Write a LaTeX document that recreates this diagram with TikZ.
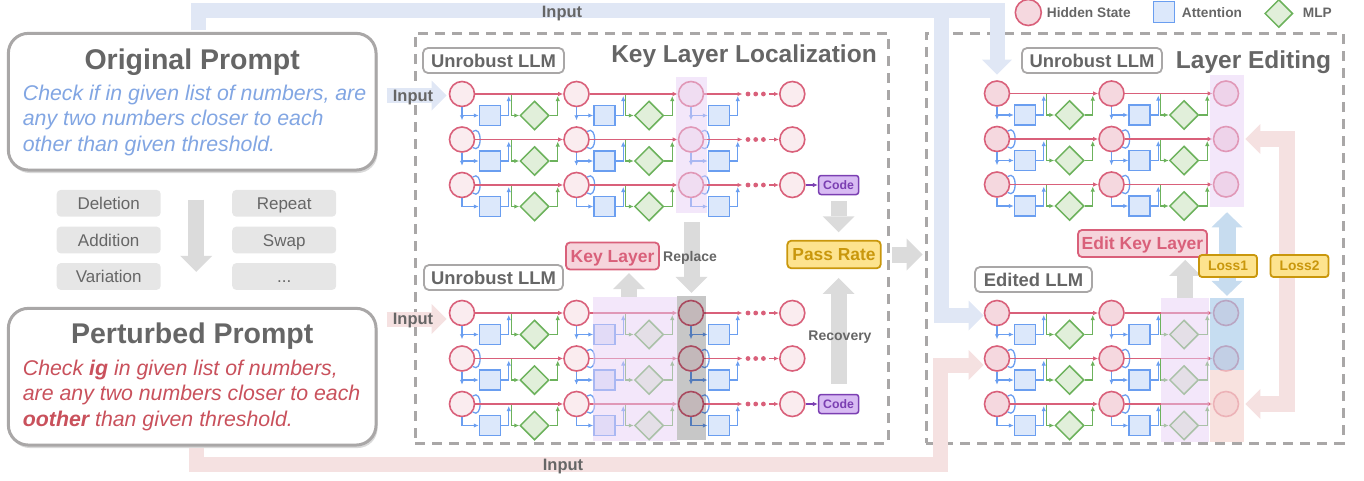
\documentclass[tikz,border=0pt]{standalone}
\usepackage{fontspec}
\setmainfont{Liberation Sans}
\setsansfont{Liberation Sans}
\usetikzlibrary{arrows.meta,shapes.geometric,shadows}

\definecolor{hsred}{HTML}{D9607A}
\definecolor{hsfill}{HTML}{FAECEF}
\definecolor{hsfillb}{HTML}{F5D8DF}
\definecolor{attblue}{HTML}{6A9EF0}
\definecolor{attfill}{HTML}{DCE8FB}
\definecolor{mlpgreen}{HTML}{6CB25C}
\definecolor{mlpfill}{HTML}{E1EFDA}
\definecolor{framegray}{HTML}{A9A7A7}
\definecolor{txtgray}{HTML}{666666}
\definecolor{fatgray}{HTML}{DBDBDB}
\definecolor{bandblue}{HTML}{E0E7F5}
\definecolor{bandpink}{HTML}{F5E1E1}
\definecolor{lossblue}{HTML}{C7DCEF}
\definecolor{passfill}{HTML}{FDE38E}
\definecolor{passdraw}{HTML}{C9970C}
\definecolor{codefill}{HTML}{D8BBF3}
\definecolor{codedraw}{HTML}{7B3FB2}
\definecolor{keyfill}{HTML}{F6D5DC}
\definecolor{chipfill}{HTML}{E6E6E6}
\definecolor{promptblue}{HTML}{82A6E3}
\definecolor{promptred}{HTML}{C9515C}
\definecolor{hlpurple}{HTML}{E8D0F5}
\definecolor{hlblue}{HTML}{A8CBE9}
\definecolor{hlpink}{HTML}{F5D5D1}

\tikzset{
  hs/.style={circle, draw=hsred, line width=1.6pt, minimum size=25pt, inner sep=0pt},
  attn/.style={rectangle, draw=attblue, fill=attfill, line width=1.5pt, minimum width=21pt, minimum height=20pt, inner sep=0pt},
  mlp/.style={diamond, draw=mlpgreen, fill=mlpfill, line width=1.5pt, minimum size=29pt, inner sep=0pt},
  rd/.style={draw=hsred, line width=1.5pt, ->},
  bl/.style={draw=attblue, line width=1.3pt, ->},
  gr/.style={draw=mlpgreen, line width=1.3pt, ->},
  cd/.style={draw=codedraw, line width=1.5pt, ->},
  dotbox/.style={rectangle, minimum width=26pt, minimum height=5pt, inner sep=0pt},
  hl/.style={rectangle, draw=none, inner sep=0pt, fill opacity=0.5},
  dashframe/.style={rectangle, draw=framegray, line width=3pt, dash pattern=on 10pt off 7pt, inner sep=0pt},
  frametitle/.style={anchor=base, inner sep=0pt, text=txtgray, font=\bfseries\fontsize{24.5}{29}\selectfont},
  prompt/.style={rectangle, rounded corners=20pt, draw=framegray, line width=3pt, fill=white,
    minimum width=367.7pt, minimum height=136.7pt, inner sep=0pt,
    drop shadow={shadow xshift=1.5pt, shadow yshift=-3pt, opacity=0.25, fill=black!60}},
  ptitle/.style={anchor=base, inner sep=0pt, text=txtgray, font=\bfseries\fontsize{28.5}{33}\selectfont},
  ptext/.style={anchor=north west, inner sep=0pt, align=left, font=\itshape\fontsize{21.3}{25.6}\selectfont},
  chip/.style={rectangle, rounded corners=4pt, fill=chipfill, text=txtgray, minimum width=104pt, minimum height=26.7pt,
    inner sep=0pt, text height=12.2pt, text depth=0pt, font=\fontsize{17}{20}\selectfont},
  llmbox/.style={rectangle, rounded corners=5pt, draw=framegray, line width=1.8pt, fill=white, text=txtgray,
    minimum height=25pt, inner sep=0pt, text height=13.2pt, text depth=0pt, font=\bfseries\fontsize{18.4}{22}\selectfont},
  keybox/.style={rectangle, rounded corners=4pt, draw=hsred, line width=1.8pt, fill=keyfill, text=hsred,
    minimum height=27pt, inner sep=0pt, text height=12.6pt, text depth=0pt, font=\bfseries\fontsize{17.5}{21}\selectfont},
  passbox/.style={rectangle, rounded corners=4pt, draw=passdraw, line width=1.8pt, fill=passfill, text=passdraw,
    minimum width=93.4pt, minimum height=27.6pt, inner sep=0pt, text height=12.5pt, text depth=0pt,
    font=\bfseries\fontsize{17.4}{21}\selectfont},
  lossbox/.style={rectangle, rounded corners=3pt, draw=passdraw, line width=1.8pt, fill=passfill, text=passdraw,
    minimum width=58pt, minimum height=22pt, inner sep=0pt, text height=9.9pt, text depth=0pt,
    font=\bfseries\fontsize{13.8}{16}\selectfont},
  codebox/.style={rectangle, rounded corners=2.5pt, draw=codedraw, line width=1.5pt, fill=codefill, text=codedraw,
    minimum width=40pt, minimum height=19pt, inner sep=0pt, text height=8.9pt, text depth=0pt,
    font=\bfseries\fontsize{12.3}{15}\selectfont},
  note/.style={inner sep=0pt, text=txtgray, text height=10.1pt, text depth=0pt, font=\bfseries\fontsize{14}{17}\selectfont},
  inlabel/.style={inner sep=0pt, text=txtgray, text height=11.9pt, text depth=0pt, font=\bfseries\fontsize{16.5}{20}\selectfont},
  legtext/.style={anchor=west, inner sep=0pt, text=txtgray, text height=9.9pt, text depth=0pt, font=\bfseries\fontsize{13.7}{16}\selectfont},
  inblue/.style={draw=bandblue, line width=15pt, -{Triangle[width=30pt,length=15pt,line width=0pt]}},
  inpink/.style={draw=bandpink, line width=15pt, -{Triangle[width=30pt,length=15pt,line width=0pt]}},
  fat/.style={draw=fatgray, line width=16pt, -{Triangle[width=32pt,length=16pt,line width=0pt]}},
  lossarrow/.style={draw=lossblue, line width=17pt,
    {Triangle[width=31pt,length=15pt,line width=0pt]}-{Triangle[width=31pt,length=15pt,line width=0pt]}},
  loss2arrow/.style={draw=bandpink, line width=16pt,
    {Triangle[width=30pt,length=15pt,line width=0pt]}-{Triangle[width=30pt,length=15pt,line width=0pt]}},
}

% attention branch of one column: #1 model, #2 column
\newcommand\attnpart[2]{%
  \foreach \r in {1,2,3} {
    \node[attn] (#1-s-#2-\r) at ([shift={(28,21.5)}]#1-h-#2-\r) {};
    \draw[bl] (#1-h-#2-\r.south) |- (#1-s-#2-\r.west);
    \draw[bl] (#1-s-#2-\r.east) -- ++(7.5,0) -- ++(0,-19.5);
  }
  \foreach \r in {1,2}
    \draw[bl] (#1-h-#2-\r.south) -- ++(0,13);
  % half ring on the right of the next hidden state
  \foreach \r in {2,3}
    \draw[bl, -] ([shift={(0,-15.5)}]#1-h-#2-\r) .. controls ([shift={(20.7,-15.5)}]#1-h-#2-\r)
      and ([shift={(20.7,15.5)}]#1-h-#2-\r) .. ([shift={(0,15.5)}]#1-h-#2-\r);
}
% mlp branch of one column
\newcommand\mlppart[2]{%
  \foreach \r in {1,2,3} {
    \node[mlp] (#1-m-#2-\r) at ([shift={(72.5,21.5)}]#1-h-#2-\r) {};
    \draw[gr] (#1-m-#2-\r.west) ++(-8,-21.5) |- (#1-m-#2-\r.west);
    \draw[gr] (#1-m-#2-\r.east) -- ++(8,0) -- ++(0,-19.5);
  }
}

\begin{document}
\begin{tikzpicture}[x=1pt, y=-1pt, >={Latex[length=5pt,width=4.5pt]}]
  \useasboundingbox (0,0) rectangle (1364,480);

  % frames
  \node[dashframe, minimum width=473pt, minimum height=410pt] (loc) at (651.5,238) {};
  \node[dashframe, minimum width=417pt, minimum height=410pt] (edit) at (1134.5,238) {};
  \node[frametitle] (loc-title) at (744,62) {Key Layer Localization};
  \node[frametitle] (edit-title) at (1253.5,68.3) {Layer Editing};

  % prompts
  \node[prompt] (orig) at (192.2,101.7) {};
  \node[ptitle] (orig-title) at (192.2,69.3) {Original Prompt};
  \node[ptext, text=promptblue] (orig-text) at (22.7,84.7)
    {Check if in given list of numbers, are\\any two numbers closer to each\\other than given threshold.};
  \node[prompt] (pert) at (192.2,376.7) {};
  \node[ptitle] (pert-title) at (192.2,343.3) {Perturbed Prompt};
  \node[ptext, text=promptred] (pert-text) at (22.7,359.7)
    {Check \textbf{ig} in given list of numbers,\\are any two numbers closer to each\\\textbf{oother} than given threshold.};

  \node[chip] (del) at (108.7,203.3) {Deletion};
  \node[chip] (add) at (108.7,240) {Addition};
  \node[chip] (var) at (108.7,276.5) {Variation};
  \node[chip] (rep) at (284.2,203.3) {Repeat};
  \node[chip] (swap) at (284.2,240) {Swap};
  \node[chip] (more) at (284.2,276.5) {...};
  \draw[fat, shorten <=28pt, shorten >=35pt] ([xshift=4pt]orig.south) -- ([xshift=4pt]pert.north);

  % the four models
  \foreach \n/\xo/\yo/\hf in {a/462/94/hsfill, b/462/313/hsfill, c/997/93.5/hsfillb, d/997/313/hsfillb} {
    \foreach \c in {1,2,3}
      \foreach \r in {1,2,3}
        \node[hs, fill=\hf] (\n-h-\c-\r) at ({\xo+114.5*(\c-1)},{\yo+45.5*(\r-1)}) {};
    \foreach \c in {1,2} {
      \attnpart{\n}{\c}
      \mlppart{\n}{\c}
    }
    \foreach \c/\cn in {1/2,2/3}
      \foreach \r in {1,2,3}
        \draw[rd] (\n-h-\c-\r) -- (\n-h-\cn-\r);
  }
  \foreach \n in {a,b} {
    \attnpart{\n}{3}
    \foreach \r in {1,2,3} {
      \node[hs, fill=hsfill] (\n-h-4-\r) at ([shift={(101.3,0)}]\n-h-3-\r) {};
      \node[dotbox] (\n-d-\r) at ([shift={(64.7,0)}]\n-h-3-\r) {};
      \fill[hsred] (\n-d-\r) circle (2.4pt) ([shift={(-7.7,0)}]\n-d-\r) circle (2.4pt)
        ([shift={(7.7,0)}]\n-d-\r) circle (2.4pt);
      \draw[rd] (\n-h-3-\r) -- (\n-d-\r);
      \draw[rd] (\n-d-\r) -- (\n-h-4-\r);
    }
    \node[codebox] (\n-code) at ([shift={(46.3,0)}]\n-h-4-3) {Code};
    \draw[cd] (\n-h-4-3) -- (\n-code);
  }

  % highlighted layers
  \node[hl, fill=hlpurple, minimum width=30.7pt, minimum height=136pt] (a-hl) at (691.5,144.7) {};
  \node[hl, fill=hlpurple, minimum width=83.4pt, minimum height=144pt] (b-hl) at (635,368.7) {};
  \node[hl, fill=black, fill opacity=0.22, minimum width=29.4pt, minimum height=144pt] (b-key) at (691.5,368) {};
  \node[hl, fill=hlpurple, minimum width=33.3pt, minimum height=132.3pt] (c-hl) at (1227,141.2) {};
  \node[hl, fill=hlpurple, minimum width=48.3pt, minimum height=143.4pt] (d-hl) at (1185.2,370) {};
  \node[hl, fill=hlblue, fill opacity=0.65, minimum width=34pt, minimum height=71.7pt] (d-loss1) at (1227,334.2) {};
  \node[hl, fill=hlpink, fill opacity=0.7, minimum width=34pt, minimum height=71.7pt] (d-loss2) at (1227,405.9) {};

  % inputs
  \coordinate (fork) at (941,12);
  \coordinate (pturn) at (940,464);
  \coordinate (in-a) at (386.7,95.5);
  \coordinate (in-b) at (386.7,319);
  \draw[inblue, shorten <=1.5pt, shorten >=5.5pt] ([xshift=6pt]orig.north) -- ++(0,-21.7) -| (c-h-1-1.north);
  \draw[inblue] (fork) |- ([yshift=-2.5pt]d-h-1-1.west);
  \draw[inblue, shorten >=2pt] (in-a) -- (in-a -| a-h-1-1.west);
  \draw[inpink, shorten <=1.5pt] ([xshift=4pt]pert.south) |- (pturn) |- ([yshift=-6.5pt]d-h-1-2.west);
  \draw[inpink, shorten >=2pt] (in-b) -- (in-b -| b-h-1-1.west);
  \node[inlabel] (in-top) at (562,12) {Input};
  \node[inlabel] (in-bot) at (563,465) {Input};
  \node[inlabel] (in-a-label) at (413,95.5) {Input};
  \node[inlabel] (in-b-label) at (413,318.5) {Input};

  % model names and legend
  \node[llmbox, minimum width=141pt] (a-title) at (493.5,60.5) {Unrobust LLM};
  \node[llmbox, minimum width=139pt] (b-title) at (493.5,277.5) {Unrobust LLM};
  \node[llmbox, minimum width=140pt] (c-title) at (1092,60.5) {Unrobust LLM};
  \node[llmbox, minimum width=117pt] (d-title) at (1033.5,279.5) {Edited LLM};

  \node[hs, fill=hsfillb, minimum size=26pt] (leg-hs) at (1028.3,12.5) {};
  \node[legtext] (leg-hs-text) at (1046.7,12.5) {Hidden State};
  \node[attn, minimum size=21pt] (leg-attn) at (1163.8,12.2) {};
  \node[legtext] (leg-attn-text) at (1181.7,12.5) {Attention};
  \node[mlp, minimum size=28pt] (leg-mlp) at (1278.8,13.5) {};
  \node[legtext] (leg-mlp-text) at (1302.7,12.5) {MLP};

  % localisation and editing
  \node[keybox, minimum width=93pt] (key) at (612.5,256) {Key Layer};
  \node[passbox] (pass) at (834,254.5) {Pass Rate};
  \node[keybox, minimum width=129pt] (editkey) at (1142.5,243.5) {Edit Key Layer};

  \draw[fat, shorten <=9.5pt, shorten >=3pt] (a-hl.south) -- (b-key.north);
  \draw[fat, shorten >=2.7pt] ([xshift=-6pt]b-hl.north) -- ([xshift=16.5pt]key.south);
  \draw[fat, shorten <=6pt, shorten >=7.5pt] (a-code.south) -- (a-code.south |- pass.north);
  \draw[fat, shorten <=10pt, shorten >=8.7pt] (b-code.north) -- (b-code.north |- pass.south);
  \draw[fat, shorten <=10.5pt, shorten >=2pt] (pass.east) -- (pass.east -| edit.west);
  \draw[fat, shorten >=2pt] (d-hl.north) -- (d-hl.north |- editkey.south);
  \draw[lossarrow, shorten <=4.7pt, shorten >=2.3pt] (c-hl.south) -- (d-loss1.north);
  \draw[loss2arrow, shorten <=6pt, shorten >=6pt] (c-h-3-2.east) -- ++(48,0) |- (d-h-3-3.east);

  \node[note] (replace) at (690,256.7) {Replace};
  \node[note] (recovery) at (840,335) {Recovery};
  \node[lossbox] (loss1) at (1228,266) {Loss1};
  \node[lossbox] (loss2) at (1299.5,266) {Loss2};
\end{tikzpicture}
\end{document}
